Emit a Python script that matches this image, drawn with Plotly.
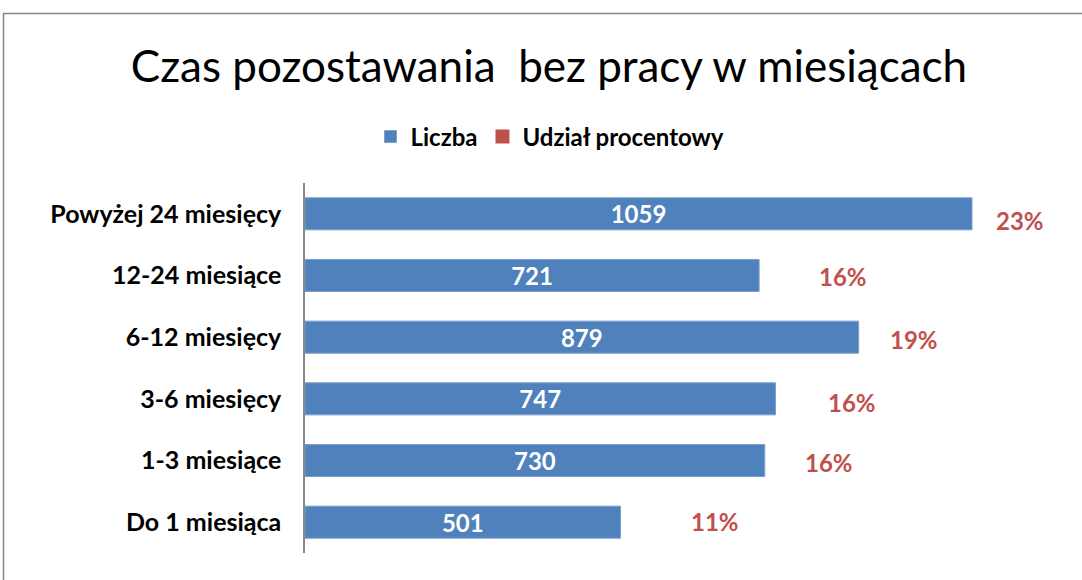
import plotly.graph_objects as go

# ---- data ----
categories = ["Do 1 miesiąca", "1-3 miesiące", "3-6 miesięcy", "6-12 miesięcy",
              "12-24 miesiące", "Powyżej 24 miesięcy"]
liczba = [501, 730, 747, 879, 721, 1059]
udzial_pct = [11, 16, 16, 19, 16, 23]

# ---- styles ----
BLUE = "#4F81BD"
RED = "#C0504D"
FONT = "Lato"
W, H = 1082, 580
ML, MR, MT, MB = 305, 32, 183, 27
label_gap_px = [68, 38, 51, 29, 58, 22]   # manual label placement in the reference
label_dy_px = [1, -2, -4, -2, -1, -7]

fig = go.Figure()
fig.add_trace(go.Bar(
    y=categories, x=liczba, orientation="h", name="Liczba",
    marker=dict(color=BLUE, line=dict(color="#7F9FCB", width=1)),
    width=0.52,
    text=[str(v) for v in liczba], textposition="inside",
    insidetextanchor="middle", constraintext="none",
    textfont=dict(family=FONT, size=24, color="white", weight="bold"),
    hoverinfo="skip",
))
# legend entry for the percentage series
fig.add_trace(go.Scatter(
    x=[None], y=[None], mode="markers", name="Udział procentowy",
    marker=dict(symbol="square", size=14, color=RED),
))

for c, v, p, g, dy in zip(categories, liczba, udzial_pct, label_gap_px, label_dy_px):
    fig.add_annotation(
        x=v, y=c, xref="x", yref="y", text=f"{p}%", showarrow=False,
        xanchor="left", xshift=g, yshift=dy,
        font=dict(family=FONT, size=24, color=RED, weight="bold"),
    )

plot_w = W - ML - MR
plot_h = H - MT - MB
px_per_unit = 667 / 1059
xmax = plot_w / px_per_unit

def px_to_paper_x(px):
    return (px - ML) / plot_w

def py_to_paper_y(py):
    return (H - MB - py) / plot_h

fig.add_shape(type="rect", xref="paper", yref="paper",
              x0=px_to_paper_x(3.5), x1=px_to_paper_x(1200),
              y0=py_to_paper_y(700), y1=py_to_paper_y(13.5),
              line=dict(color="#868686", width=1.5), layer="below")

fig.update_layout(
    width=W, height=H,
    margin=dict(l=ML, r=MR, t=MT, b=MB),
    paper_bgcolor="white", plot_bgcolor="white",
    title=dict(text="Czas pozostawania\u00a0 bez pracy w miesiącach",
               x=px_to_paper_x(549), xref="paper", xanchor="center",
               y=1 - 67 / H, yanchor="middle",
               font=dict(family=FONT, size=44, color="black")),
    legend=dict(orientation="h", x=px_to_paper_x(550), xanchor="center",
                y=py_to_paper_y(137), yanchor="middle",
                font=dict(family=FONT, size=24, color="black", weight="bold"),
                itemwidth=30, tracegroupgap=0, bgcolor="rgba(0,0,0,0)"),
    showlegend=True,
    xaxis=dict(range=[0, xmax], visible=False, fixedrange=True),
    yaxis=dict(categoryorder="array", categoryarray=categories,
               range=[-0.5, 5.5], showline=True, linecolor="#868686", linewidth=1.5,
               ticks="", showgrid=False, ticklabelstandoff=17,
               tickfont=dict(family=FONT, size=25, color="black", weight="bold")),
    bargap=0.48,
)

fig.write_html("out.html", config={"displayModeBar": False},
               post_script="document.body.style.margin='0px';")
